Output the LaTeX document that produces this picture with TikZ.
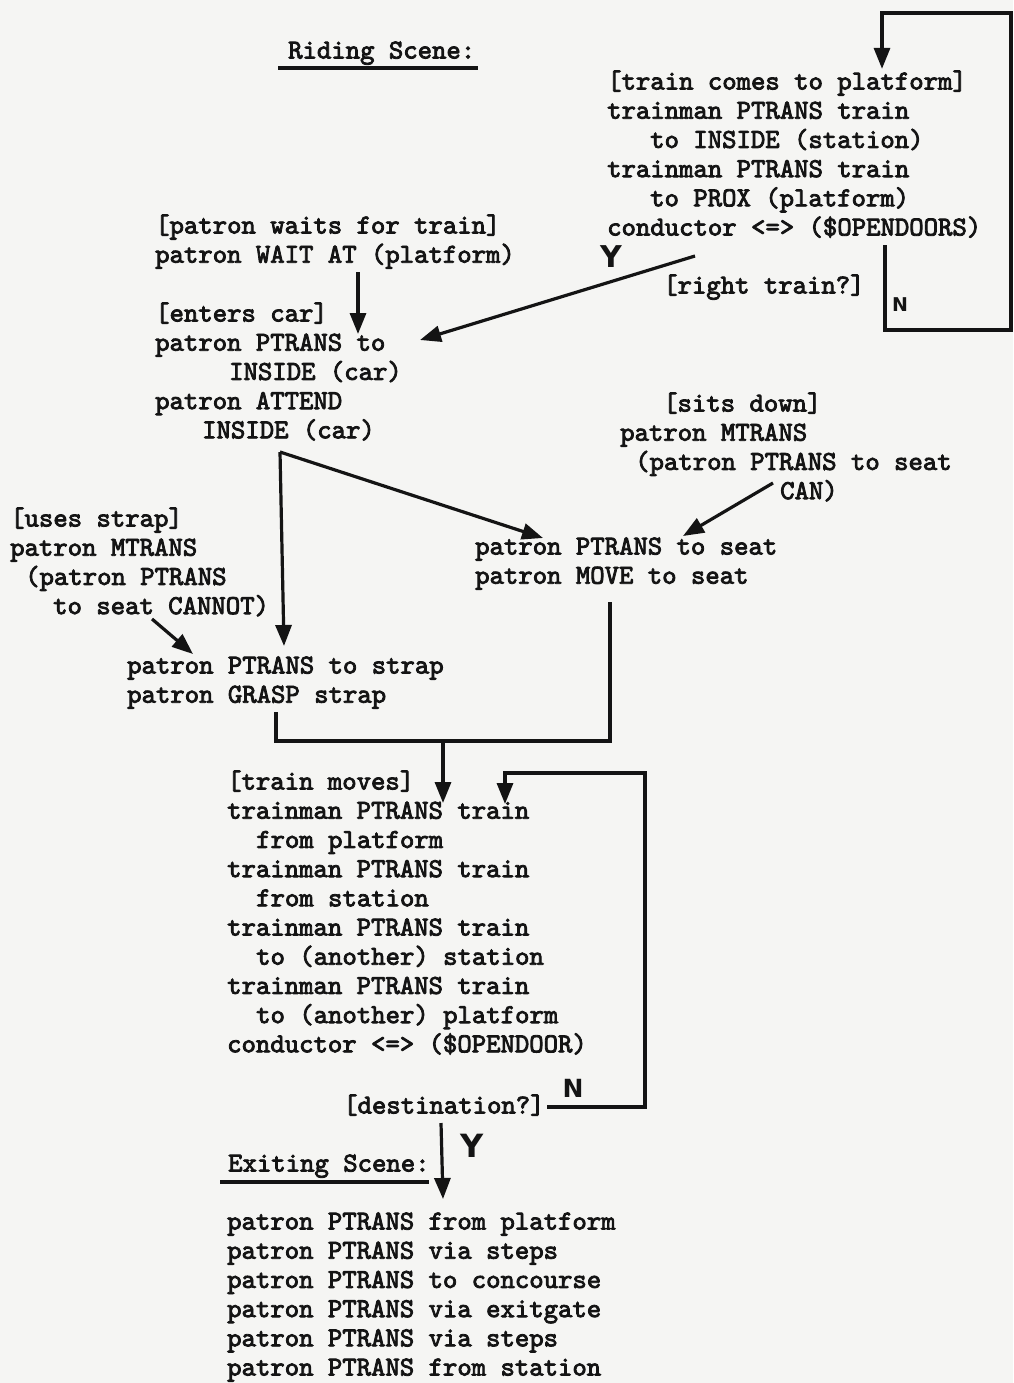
\documentclass[tikz,border=0pt]{standalone}
\usepackage{fontspec}
\newfontfamily\tw{lmmono10-regular.otf}[FakeBold=3]
\newfontfamily\ynfont{DejaVu Sans}
\usetikzlibrary{arrows.meta}
\definecolor{paper}{RGB}{245,245,243}
\definecolor{ink}{RGB}{20,20,20}
% a block of typed lines; the node's base is the first line's baseline
\newcommand\blk[1]{\begin{tabular}[t]{@{}l@{}}#1\end{tabular}}
\newcommand\ind[1]{\hspace*{#1pt}}

\begin{document}
\begin{tikzpicture}[x=1pt,y=-1pt,
  txt/.style={font=\tw\fontsize{27.4}{29.2}\selectfont, inner sep=0pt, anchor=base west, text=ink},
  yn/.style={font=\ynfont\bfseries\fontsize{#1}{#1}\selectfont, inner sep=0pt, text=ink},
  link/.style={draw=ink, line width=3.2pt, line join=miter},
  arr/.style={link, -{Triangle[length=21pt,width=16pt]}},
  uline/.style={draw=ink, line width=4pt}]

\fill[paper] (0,0) rectangle (1013,1383);
\useasboundingbox (0,0) rectangle (1013,1383);

% ---------- riding scene ----------
\node[txt] (riding) at (288,58.5) {Riding Scene:};
\draw[uline] ([xshift=-10pt,yshift=-10pt]riding.base west) -- ([xshift=3pt,yshift=-10pt]riding.base east);

\node[txt] (arrive) at (607,89.5) {\blk{{[}train comes to platform]\\
trainman PTRANS train\\
\ind{43}to INSIDE (station)\\
trainman PTRANS train\\
\ind{43}to PROX (platform)\\
conductor <=> (\$OPENDOORS)}};

\node[txt] (righttrain) at (663,293.5) {[right train?]};

\node[txt] (waits) at (155,233.5) {\blk{{[}patron waits for train]\\
patron WAIT AT (platform)}};

\node[txt] (enters) at (155,321.5) {\blk{{[}enters car]\\
patron PTRANS to\\
\ind{74}INSIDE (car)\\
patron ATTEND\\
\ind{47}INSIDE (car)}};

\node[txt] (sits) at (620,411.5) {\blk{\ind{43}{[}sits down]\\
patron MTRANS\\
\ind{15}(patron PTRANS to seat\\
\ind{160}CAN)}};

\node[txt] (seat) at (475,554.5) {\blk{patron PTRANS to seat\\
patron MOVE to seat}};

\node[txt] (usestrap) at (10,526.5) {\blk{{[}uses strap]\\
patron MTRANS\\
\ind{15}(patron PTRANS\\
\ind{43}to seat CANNOT)}};

\node[txt] (strap) at (127,673.5) {\blk{patron PTRANS to strap\\
patron GRASP strap}};

\node[txt] (moves) at (227,789.5) {\blk{{[}train moves]\\
trainman PTRANS train\\
\ind{29}from platform\\
trainman PTRANS train\\
\ind{29}from station\\
trainman PTRANS train\\
\ind{29}to (another) station\\
trainman PTRANS train\\
\ind{29}to (another) platform\\
conductor <=> (\$OPENDOOR)}};

\node[txt] (dest) at (343,1113.5) {[destination?]};

% ---------- exiting scene ----------
\node[txt] (exiting) at (228,1171.5) {Exiting Scene:};
\draw[uline] ([xshift=-8pt,yshift=-10.5pt]exiting.base west) -- ([xshift=-1pt,yshift=-10.5pt]exiting.base east);

\node[txt] (leave) at (227,1229.5) {\blk{patron PTRANS from platform\\
patron PTRANS via steps\\
patron PTRANS to concourse\\
patron PTRANS via exitgate\\
patron PTRANS via steps\\
patron PTRANS from station}};

% ---------- yes / no marks ----------
\node[yn=30] (y1) at (611,257) {Y};
\node[yn=19] (n1) at (900,305) {N};
\node[yn=25] (n2) at (573,1088) {N};
\node[yn=32] (y2) at (472,1146) {Y};

% ---------- connectors ----------
% wrong train: loop back to the arrival
\coordinate (nA) at (885,245);
\coordinate (nB) at (885,330);
\coordinate (edgeB) at (1011,330);
\coordinate (edgeT) at (1011,13);
\coordinate (backT) at (882,13);
\draw[arr] (nA) -- (nB) -- (edgeB) -- (edgeT) -- (backT) -- (backT |- arrive.north);

% right train: board it
\coordinate (yA) at (695,256);
\coordinate (yB) at (420,340);
\draw[arr] (yA) -- (yB);

% waiting leads to entering
\coordinate (wA) at (358,272);
\coordinate (wB) at (358,334);
\draw[arr] (wA) -- (wB);

% branch after entering the car
\coordinate (br) at (280,452);
\coordinate (brStrap) at (284,646);
\coordinate (brSeat) at (543,538);
\draw[arr] (br) -- (brStrap);
\draw[arr] (br) -- (brSeat);

% side conditions
\coordinate (canA) at (773,483);
\coordinate (canB) at (683,536);
\draw[arr] (canA) -- (canB);
\coordinate (cntA) at (152,619);
\coordinate (cntB) at (193,654);
\draw[arr] (cntA) -- (cntB);

% the two ways merge and the train moves
\coordinate (mL) at (276,712);
\coordinate (mR) at (610,602);
\coordinate (mY) at (443,741);
\draw[link] (mL) -- (mL |- mY) -- (mR |- mY) -- (mR);
\draw[arr] (mY) -- (443,803);

% not yet at destination: ride on
\coordinate (dA) at (547,1107);
\coordinate (dR) at (645,1107);
\coordinate (dT) at (645,773);
\coordinate (dL) at (505,773);
\draw[arr] (dA) -- (dR) -- (dT) -- (dL) -- (505,804);

% at destination: leave
\coordinate (xA) at (441,1123);
\draw[arr] (xA) -- (443,1199);
\end{tikzpicture}
\end{document}
